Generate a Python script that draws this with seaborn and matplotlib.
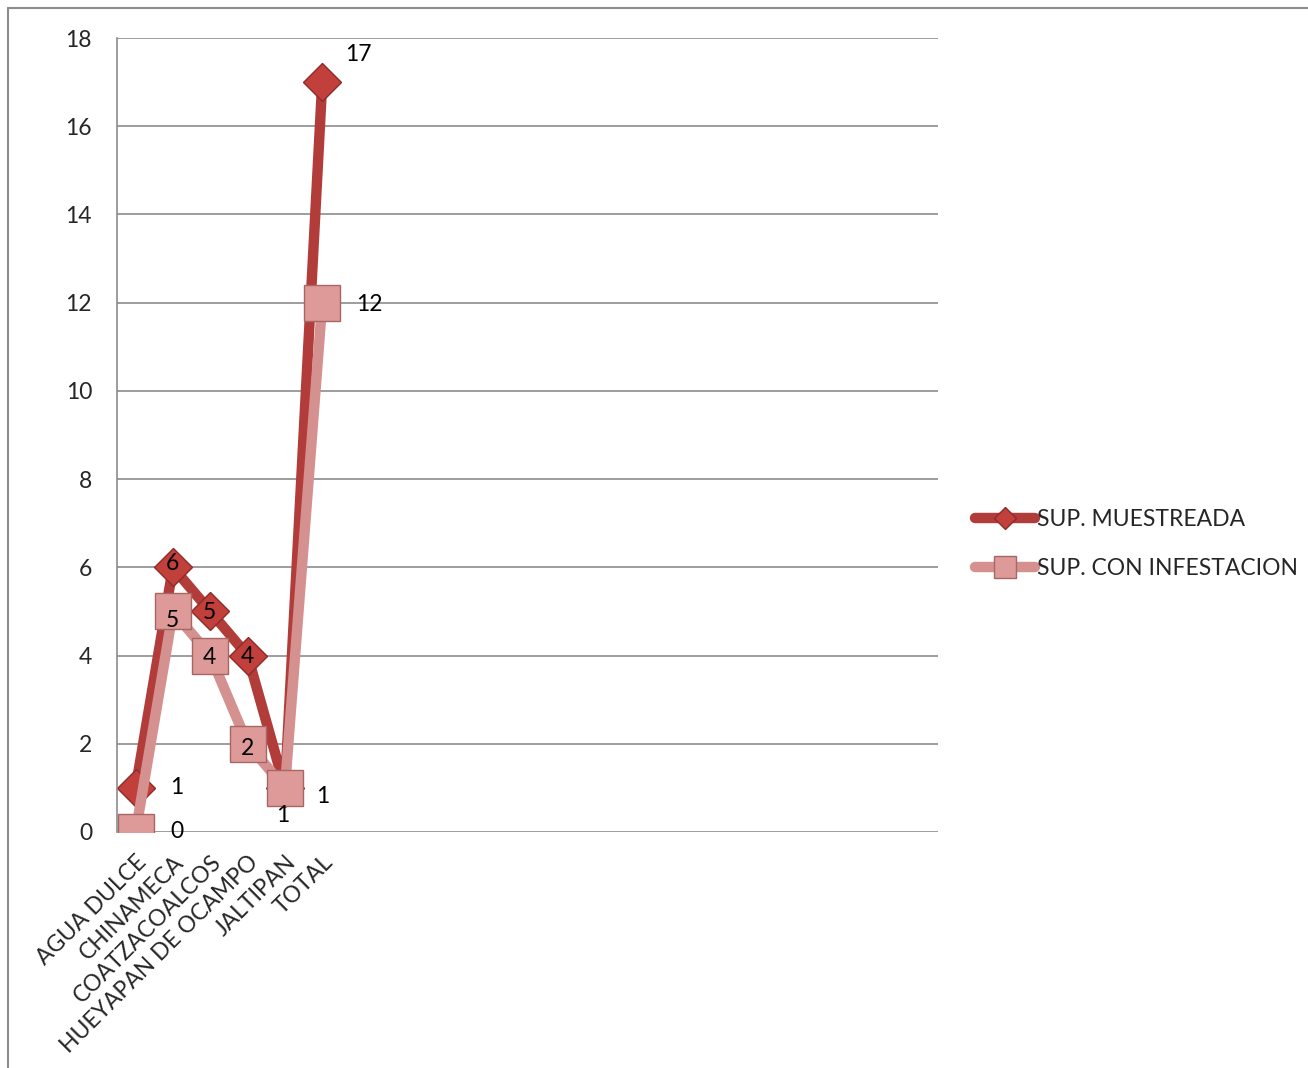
import seaborn as sns
import matplotlib.pyplot as plt
import matplotlib.lines as mlines
import pandas as pd

# municipios y superficies
municipios = ['AGUA DULCE', 'CHINAMECA', 'COATZACOALCOS', 'HUEYAPAN DE OCAMPO', 'JALTIPAN', 'TOTAL']
sup_muestreada = [1, 6, 5, 4, 1, 17]
sup_infestacion = [0, 5, 4, 2, 1, 12]

df = pd.DataFrame({'municipio': municipios, 'muestreada': sup_muestreada, 'infestacion': sup_infestacion})

sns.set_style('white')
plt.rcParams['font.family'] = ['Lato', 'DejaVu Sans']

red_line, red_mark = '#B23C3A', '#C1403C'
pink_line, pink_mark = '#D49190', '#DE9A99'
fs = 16.5

fig = plt.figure(figsize=[13.08, 10.68], dpi=100)
ax = fig.add_axes([117/1308, 1 - 832/1068, 821/1308, 794/1068])

sns.lineplot(data=df, x='municipio', y='muestreada', ax=ax, color=red_line, linewidth=7.5,
             marker='D', markersize=19, markerfacecolor=red_mark, markeredgecolor='#8E2A28',
             markeredgewidth=1, label='SUP. MUESTREADA', sort=False)
sns.lineplot(data=df, x='municipio', y='infestacion', ax=ax, color=pink_line, linewidth=7.5,
             marker='s', markersize=26, markerfacecolor=pink_mark, markeredgecolor='#A66664',
             markeredgewidth=1, label='SUP. CON INFESTACION', sort=False)

# data labels (offsets in pixels)
off_m = [(41, 0), (-1, 4), (-1, -1), (0, -1), (-2, -28), (36, 28)]
off_i = [(41, 0), (-1, -9), (-1, -2), (0, -5), (38, -9), (47, -2)]
for i, m in enumerate(municipios):
    ax.annotate(str(sup_muestreada[i]), (i, sup_muestreada[i]), xytext=off_m[i], textcoords='offset pixels',
                ha='center', va='center', fontsize=fs, color='black')
    ax.annotate(str(sup_infestacion[i]), (i, sup_infestacion[i]), xytext=off_i[i], textcoords='offset pixels',
                ha='center', va='center', fontsize=fs, color='black')

ax.set_xlim(-0.5, 21.5)
ax.set_ylim(0, 18)
ax.set_yticks(range(0, 19, 2))
ax.yaxis.grid(True, color='#8c8c8c', linewidth=1.2)
ax.set_xlabel('')
ax.set_ylabel('')
for s in ['top', 'right', 'bottom']:
    ax.spines[s].set_visible(False)
ax.spines['left'].set_color('#8c8c8c')
ax.spines['left'].set_linewidth(1.2)
ax.tick_params(axis='y', length=0, pad=18, labelsize=fs)
ax.tick_params(axis='x', length=0, pad=14, labelsize=fs)
plt.setp(ax.get_xticklabels(), rotation=45, ha='right', rotation_mode='anchor')

leg = ax.legend(loc='center left', bbox_to_anchor=(1.045, 0.363), frameon=False, fontsize=fs,
                handlelength=2.6, markerscale=0.6, labelspacing=1.2, handletextpad=0.1, borderpad=0,
                borderaxespad=0)

# chart border
fig.add_artist(mlines.Line2D([8/1308, 8/1308], [0, 1 - 8/1068], color='#8c8c8c', lw=1.5))
fig.add_artist(mlines.Line2D([8/1308, 1], [1 - 8/1068, 1 - 8/1068], color='#8c8c8c', lw=1.5))

plt.savefig('out.png', dpi=100)
plt.close()
